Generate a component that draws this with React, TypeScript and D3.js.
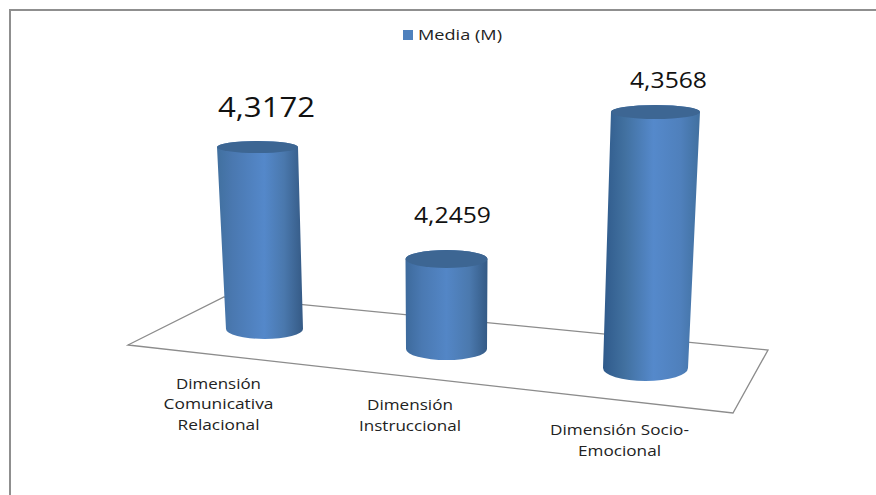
import React from "react";
import * as d3 from "d3";

// Series values and category labels
const seriesName = "Media (M)";
const categoryLines = [
  ["Dimensión", "Comunicativa", "Relacional"],
  ["Dimensión", "Instruccional"],
  ["Dimensión Socio-", "Emocional"],
];
const means = [4.3172, 4.2459, 4.3568];
const meanLabels = ["4,3172", "4,2459", "4,3568"];

// Projected floor of the 3-D plot
const floorCorners: [number, number][] = [
  [128, 345],
  [224, 297],
  [768, 350],
  [733, 413],
];

// Perspective layout of each cylinder on the floor
const baseX = [264.5, 446.5, 645.5];
const baseY = [329, 349, 368];
const baseRx = [38.5, 40.5, 42.5];
const baseRy = [10, 11, 13];
const topRx = [40.5, 41, 44.5];
const topRy = [6, 9, 7];
const depthFactor = [1, 0.862, 1.138];
const lean = [-0.0385, 0, 0.039];

// Text placement: the labels are set wide, so each run has a fixed length
const valueFont = [27, 21, 21];
const valueLabelX = [266.5, 452.5, 668.5];
const valueLabelY = [117, 223, 88];
const valueLabelWidth = [97, 77, 77];
const categoryX = [218.5, 410, 619.5];
const categoryY = [388.5, 410, 435];
const categoryWidths = [
  [85, 110, 82],
  [86, 102],
  [139, 83],
];

const gradients = [
  [["0%", "#41709f"], ["18%", "#4a78b0"], ["55%", "#5488ca"], ["78%", "#4a78ad"], ["100%", "#355a85"]],
  [["0%", "#3d6a9c"], ["20%", "#4a79b2"], ["50%", "#5386c6"], ["78%", "#4b79ae"], ["100%", "#345a85"]],
  [["0%", "#2f5a8b"], ["22%", "#41709f"], ["52%", "#5589cb"], ["80%", "#4f80bc"], ["100%", "#41709f"]],
];

const heightScale = d3.scaleLinear().domain([4.15, 4.4]).range([0, 272]);
const FONT = "'Open Sans', 'Noto Sans', sans-serif";

export default function App() {
  const floorPath = d3.line().curve(d3.curveLinearClosed)(floorCorners) ?? "";
  const cylinders = means.map((v, i) => {
    const h = heightScale(v) * depthFactor[i];
    const bx = baseX[i];
    const by = baseY[i];
    const tx = bx + lean[i] * h;
    const ty = by - h;
    const side =
      `M${tx - topRx[i]},${ty} L${bx - baseRx[i]},${by} ` +
      `A${baseRx[i]},${baseRy[i]} 0 0 0 ${bx + baseRx[i]},${by} ` +
      `L${tx + topRx[i]},${ty} ` +
      `A${topRx[i]},${topRy[i]} 0 0 0 ${tx - topRx[i]},${ty} Z`;
    return { side, tx, ty, i };
  });

  return (
    <svg
      width={876}
      height={495}
      viewBox="0 0 876 495"
      style={{ position: "absolute", left: 0, top: 0, background: "#fff" }}
    >
      <defs>
        {gradients.map((stops, i) => (
          <linearGradient key={i} id={`cyl${i}`} x1="0" x2="1" y1="0" y2="0">
            {stops.map(([o, c]) => (
              <stop key={o} offset={o} stopColor={c} />
            ))}
          </linearGradient>
        ))}
      </defs>

      {/* Outer frame: only the top and left edges fall inside the canvas */}
      <path d="M876,10 H10 V495" fill="none" stroke="#8f8f8f" strokeWidth={2} />

      {/* Legend */}
      <rect x={403} y={30} width={10} height={10} fill="#4f81bd" />
      <text
        x={418}
        y={39.5}
        fontFamily={FONT}
        fontSize={15}
        fill="#222"
        textLength={84}
        lengthAdjust="spacingAndGlyphs"
      >
        {seriesName}
      </text>

      {/* Floor */}
      <path d={floorPath} fill="#fff" stroke="#8c8c8c" strokeWidth={1.3} />

      {/* Cylinders */}
      {cylinders.map(({ side, tx, ty, i }) => (
        <g key={i}>
          <path d={side} fill={`url(#cyl${i})`} />
          <ellipse cx={tx} cy={ty} rx={topRx[i]} ry={topRy[i]} fill="#3d6693" />
        </g>
      ))}

      {/* Value labels */}
      {meanLabels.map((t, i) => (
        <text
          key={t}
          x={valueLabelX[i]}
          y={valueLabelY[i]}
          textAnchor="middle"
          fontFamily={FONT}
          fontSize={valueFont[i]}
          fill="#111"
          textLength={valueLabelWidth[i]}
          lengthAdjust="spacingAndGlyphs"
        >
          {t}
        </text>
      ))}

      {/* Category labels */}
      {categoryLines.map((lines, i) =>
        lines.map((l, j) => (
          <text
            key={`${i}-${j}`}
            x={categoryX[i]}
            y={categoryY[i] + j * 20.5}
            textAnchor="middle"
            fontFamily={FONT}
            fontSize={15}
            fill="#222"
            textLength={categoryWidths[i][j]}
            lengthAdjust="spacingAndGlyphs"
          >
            {l}
          </text>
        ))
      )}
    </svg>
  );
}
